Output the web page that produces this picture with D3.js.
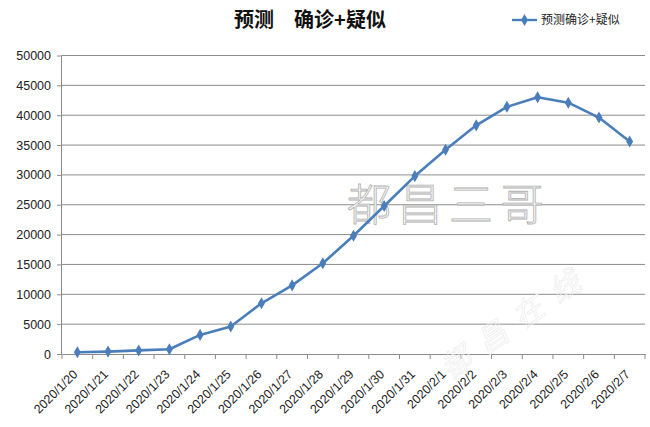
<!DOCTYPE html>
<html><head><meta charset="utf-8">
<script src="https://cdn.jsdelivr.net/npm/d3@7"></script>
<style>body{margin:0;background:#fff}svg{display:block}</style>
</head><body>
<script>
const categories = ["2020/1/20","2020/1/21","2020/1/22","2020/1/23","2020/1/24","2020/1/25","2020/1/26","2020/1/27","2020/1/28","2020/1/29","2020/1/30","2020/1/31","2020/2/1","2020/2/2","2020/2/3","2020/2/4","2020/2/5","2020/2/6","2020/2/7"];
const values = [300,400,600,800,3200,4600,8500,11500,15200,19800,24800,29800,34200,38300,41400,43000,42100,39600,35600];
const yTicks = [0,5000,10000,15000,20000,25000,30000,35000,40000,45000,50000];
const title = "预测　确诊+疑似";
const seriesName = "预测确诊+疑似";

(function(){
const W=650,H=427;
const svg=d3.select("body").append("svg").attr("width",W).attr("height",H);
const mL=62,mR=645,mT=55.5,mB=354;
const x=d3.scaleBand().domain(categories).range([mL,mR]);
const y=d3.scaleLinear().domain([0,50000]).range([mB,mT]);
const font="'Liberation Sans',Arial,sans-serif";

svg.append("g").selectAll("line").data(yTicks.filter(d=>d>0)).join("line")
 .attr("x1",mL).attr("x2",mR).attr("y1",d=>y(d)).attr("y2",d=>y(d))
 .attr("stroke","#8c8c8c").attr("stroke-width",1);

const ya=svg.append("g").attr("transform",`translate(${mL},0)`).call(d3.axisLeft(y).tickValues(yTicks).tickSize(5).tickPadding(6).tickFormat(d3.format("d")));
ya.select(".domain").attr("stroke","#8c8c8c").attr("d",`M-0.5,${mT}V${mB}`);
ya.selectAll(".tick line").attr("stroke","#8c8c8c");
ya.selectAll("text").attr("font-family",font).attr("font-size",12.5).attr("fill","#222");

const xa=svg.append("g").attr("transform",`translate(0,${mB})`).call(d3.axisBottom(x).tickSize(0).tickPadding(0));
xa.select(".domain").attr("stroke","#8c8c8c");
xa.selectAll(".tick line").remove();
xa.selectAll("text").attr("font-family",font).attr("font-size",12.5).attr("fill","#222")
 .attr("text-anchor","end").attr("dy",0).attr("transform","translate(1,21) rotate(-45)");
svg.append("g").selectAll("line").data(d3.range(categories.length+1)).join("line")
 .attr("x1",i=>mL+i*x.step()).attr("x2",i=>mL+i*x.step()).attr("y1",mB).attr("y2",mB+5)
 .attr("stroke","#8c8c8c");

svg.append("text").attr("x",347).attr("y",221).text("都昌三哥")
 .attr("font-family","'Noto Sans CJK SC'").attr("font-size",44).attr("font-weight",300)
 .attr("fill","#f7f7f7").attr("stroke","#b0b0b0").attr("stroke-width",0.8).attr("letter-spacing",7);
svg.append("text").attr("transform","translate(450,380) rotate(-35)").text("都昌在线")
 .attr("font-family","'Noto Sans CJK SC'").attr("font-size",30).attr("font-style","italic")
 .attr("fill","none").attr("stroke","#ececec").attr("stroke-width",0.7).attr("letter-spacing",14);

const cx=d=>x(d)+x.bandwidth()/2;
const line=d3.line().x((d,i)=>cx(categories[i])).y(d=>y(d));
svg.append("path").datum(values).attr("d",line).attr("fill","none").attr("stroke","#4a7ebb").attr("stroke-width",2.6).attr("stroke-linejoin","round");
const diamond=d3.symbol().type(d3.symbolDiamond).size(42);
svg.append("g").selectAll("path").data(values).join("path")
 .attr("transform",(d,i)=>`translate(${cx(categories[i])},${y(d)})`).attr("d",diamond).attr("fill","#4a7ebb");

svg.append("text").attr("x",310).attr("y",27).attr("text-anchor","middle").text(title)
 .attr("font-family","'Noto Sans CJK SC'").attr("font-weight","bold").attr("font-size",20).attr("fill","#111");

svg.append("line").attr("x1",512).attr("x2",537).attr("y1",20).attr("y2",20).attr("stroke","#4a7ebb").attr("stroke-width",2.4);
svg.append("path").attr("transform","translate(524.5,20)").attr("d",diamond).attr("fill","#4a7ebb");
svg.append("text").attr("x",541).attr("y",24).text(seriesName).attr("font-family","'Noto Sans CJK SC'").attr("font-size",12).attr("fill","#222");
})();
</script>
</body></html>
